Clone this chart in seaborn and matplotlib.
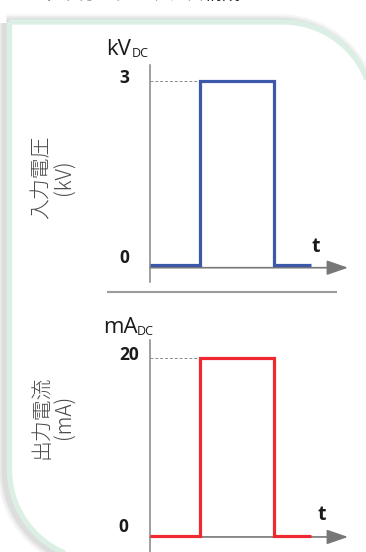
import numpy as np
import pandas as pd
import seaborn as sns
import matplotlib.pyplot as plt
from matplotlib.path import Path
from matplotlib.patches import PathPatch

sns.set_theme(style="white")
plt.rcParams['font.family'] = ['Open Sans', 'Noto Sans CJK JP', 'DejaVu Sans']

# Data
time = [0, 1.0, 1.0, 2.5, 2.5, 3.25]
voltage = [0, 0, 3, 3, 0, 0]
current = [0, 0, 20, 20, 0, 0]
t_max = 4.0

volt_ticks = [0, 3]
curr_ticks = [0, 20]

title_text = "CM トリガーシーケンス構成"
volt_label = "入力電圧\n(kV)"
curr_label = "出力電流\n(mA)"

BLUE = "#3d58a8"
RED = "#ee2a30"
GRAY = "#858585"
MINT = "#dcefe5"
W, H = 366, 552

fig = plt.figure(figsize=(W / 100, H / 100), dpi=100)
bg = fig.add_axes([0, 0, 1, 1])
bg.set_xlim(0, W)
bg.set_ylim(H, 0)
bg.axis('off')


def px_box(x0, y0, x1, y1):
    return [x0 / W, 1 - y1 / H, (x1 - x0) / W, (y1 - y0) / H]


# Frame with rounded top-right and bottom-left corners
R = 90
a1 = np.linspace(np.pi, np.pi / 2, 30)
a2 = np.linspace(0, -np.pi / 2, 30)
verts = [(9.5, 22), (9.5, 470)]
verts += [(99.5 + R * np.cos(a), 470 + R * np.sin(a)) for a in a1]
verts += [(420, 560), (420, 112)]
verts += [(283 + R * np.cos(a), 112 + R * np.sin(a)) for a in a2]
verts += [(9.5, 22)]
frame = Path(verts)

for lw, al in [(13, 0.035), (10, 0.045), (7, 0.06)]:
    shifted = Path(np.array(verts) + np.array([-3.0, 1.0]))
    bg.add_patch(PathPatch(shifted, facecolor='none', edgecolor='black', lw=lw, alpha=al))
bg.add_patch(PathPatch(frame, facecolor='white', edgecolor='none'))
bg.add_patch(PathPatch(frame, facecolor='none', edgecolor=MINT, lw=3.8))

bg.text(12, 4, title_text, fontsize=13, color='#222222', va='bottom', ha='left',
        family=['Noto Sans CJK JP', 'DejaVu Sans'])

# separator
bg.plot([107, 337], [292, 292], color='#9c9c9c', lw=1.5, solid_capstyle='butt')

# unit labels
bg.text(106, 55, 'kV', fontsize=16, color='#1a1a1a', va='baseline', ha='left')
bg.text(132, 57, 'DC', fontsize=9, color='#1a1a1a', va='baseline', ha='left')
bg.text(103, 333, 'mA', fontsize=16, color='#1a1a1a', va='baseline', ha='left')
bg.text(137, 335, 'DC', fontsize=9, color='#1a1a1a', va='baseline', ha='left')

# y labels
for text, yc in [(volt_label, 177), (curr_label, 417)]:
    bg.text(53, yc, text, rotation=90, fontsize=15, color='#4a4a4a', ha='center', va='center',
            family=['Noto Sans CJK JP', 'DejaVu Sans'], fontweight='light', linespacing=1.05,
            multialignment='center')

ax1 = fig.add_axes(px_box(150, 65, 348, 282))
ax2 = fig.add_axes(px_box(150, 340, 348, 552))

panels = [
    (ax1, voltage, volt_ticks, BLUE, (-0.277, 3.26), -0.044, [(-26, 2), (-26, -2)], 247, 316),
    (ax2, current, curr_ticks, RED, (-1.8, 22.02), -0.11, [(-27, 4), (-21, -2)], 515, 322),
]

for ax, vals, ticks, col, ylim, axis_y, offs, t_y, t_x in panels:
    ax.set_facecolor('none')
    ax.set_xlim(0, t_max)
    ax.set_ylim(*ylim)
    for s in ['top', 'right', 'bottom']:
        ax.spines[s].set_visible(False)
    ax.spines['left'].set_color(GRAY)
    ax.spines['left'].set_linewidth(1.1)
    ax.set_xticks([])
    ax.set_yticks([])

    ax.annotate('', xy=(t_max, axis_y), xytext=(0, axis_y),
                arrowprops=dict(arrowstyle='-|>,head_length=1.3,head_width=0.45', color='#777777',
                                lw=1.2, shrinkA=0, shrinkB=0, mutation_scale=10),
                annotation_clip=False, zorder=1)

    df = pd.DataFrame({'t': time, 'v': vals})
    sns.lineplot(data=df, x='t', y='v', ax=ax, color=col, lw=2.3, estimator=None, sort=False,
                 zorder=3)
    for line in ax.lines:
        line.set_solid_joinstyle('miter')
        line.set_solid_capstyle('butt')
    ax.set_xlabel('')
    ax.set_ylabel('')

    top = max(vals)
    ax.plot([0, time[2]], [top, top], color='#8a8a8a', lw=0.7, ls=(0, (3, 2)), zorder=2)

    for v, (dx, dy) in zip(ticks, offs):
        ax.annotate(str(v), xy=(0, v), xytext=(dx, dy), textcoords='offset pixels',
                    ha='center', va='baseline', fontsize=12.5, fontweight='bold', color='#1a1a1a',
                    annotation_clip=False)

    bg.text(t_x, t_y, 't', fontsize=14, fontweight='bold', color='#1a1a1a', ha='center', va='center')

fig.savefig('out.png', dpi=100)
